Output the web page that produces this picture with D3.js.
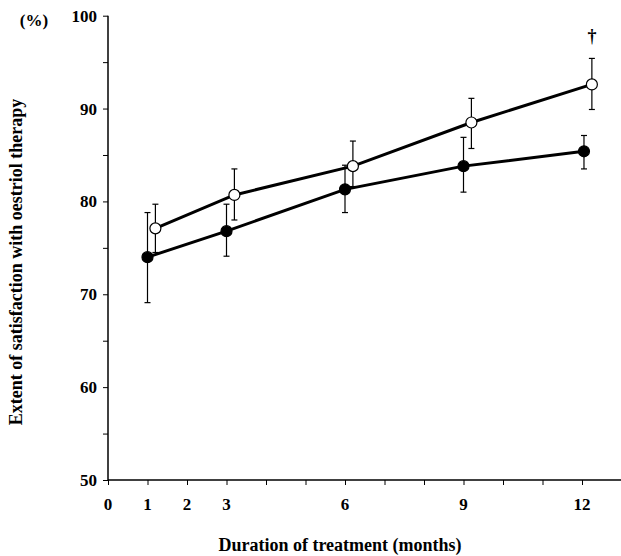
<!DOCTYPE html>
<html>
<head>
<meta charset="UTF-8">
<script src="https://d3js.org/d3.v7.min.js"></script>
<style>
  body { margin: 0; background: white; }
  text { font-family: "Liberation Serif", "DejaVu Serif", serif; font-weight: bold; fill: black; }
</style>
</head>
<body>
<svg width="621" height="556"></svg>
<script>
  // filled circles
  const filledX = [1, 3, 6, 9, 12.05];
  const filledY = [74.0, 76.8, 81.3, 83.8, 85.4];
  const filledHi = [78.8, 79.7, 83.9, 86.9, 87.1];
  const filledLo = [69.1, 74.1, 78.8, 81.0, 83.5];
  // open circles
  const openX = [1.2, 3.2, 6.2, 9.2, 12.25];
  const openY = [77.1, 80.7, 83.8, 88.5, 92.6];
  const openHi = [79.7, 83.5, 86.5, 91.1, 95.4];
  const openLo = [74.5, 78.0, 81.6, 85.7, 89.9];
  const xTickLabels = [0, 1, 2, 3, 6, 9, 12];
  const yTickLabels = [50, 60, 70, 80, 90, 100];

  const svg = d3.select("svg");
  const x = d3.scaleLinear().domain([0, 12]).range([108, 582]);
  const y = d3.scaleLinear().domain([50, 100]).range([480, 15.7]);

  // axes
  svg.append("line").attr("x1", x(0)).attr("x2", 621).attr("y1", y(50)).attr("y2", y(50))
    .attr("stroke", "black").attr("stroke-width", 1.5);
  svg.append("line").attr("x1", x(0)).attr("x2", x(0)).attr("y1", y(50)).attr("y2", y(100))
    .attr("stroke", "black").attr("stroke-width", 1.5);

  const xt = svg.append("g").attr("transform", `translate(0,${y(50)})`)
    .call(d3.axisBottom(x).tickValues(d3.range(0, 14)).tickSize(5).tickFormat(""));
  xt.select(".domain").remove();
  const yt = svg.append("g").attr("transform", `translate(${x(0)},0)`)
    .call(d3.axisLeft(y).tickValues(d3.range(50, 101, 5)).tickSize(5).tickFormat(""));
  yt.select(".domain").remove();

  svg.selectAll(".xl").data(xTickLabels).join("text")
    .attr("x", d => x(d)).attr("y", 510).attr("text-anchor", "middle")
    .attr("font-size", 17).text(d => d);
  svg.selectAll(".yl").data(yTickLabels).join("text")
    .attr("x", 97).attr("y", d => y(d) + 6).attr("text-anchor", "end")
    .attr("font-size", 17).text(d => d);

  svg.append("text").attr("x", 34).attr("y", 26).attr("text-anchor", "middle")
    .attr("font-size", 17).text("(%)");
  svg.append("text").attr("transform", "translate(22,262) rotate(-90)")
    .attr("text-anchor", "middle").attr("font-size", 18)
    .text("Extent of satisfaction with oestriol therapy");
  svg.append("text").attr("x", 340).attr("y", 551).attr("text-anchor", "middle")
    .attr("font-size", 18).text("Duration of treatment (months)");
  svg.append("text").attr("x", x(12.25)).attr("y", 42).attr("text-anchor", "middle")
    .attr("font-size", 18).attr("font-weight", "normal").text("†");

  function series(xs, ys, lo, hi, fill) {
    const pts = xs.map((d, i) => ({ x: d, y: ys[i], lo: lo[i], hi: hi[i] }));
    const g = svg.append("g");
    g.selectAll("line.eb").data(pts).join("line")
      .attr("x1", d => x(d.x)).attr("x2", d => x(d.x))
      .attr("y1", d => y(d.lo)).attr("y2", d => y(d.hi))
      .attr("stroke", "black").attr("stroke-width", 1.2);
    ["lo", "hi"].forEach(k => {
      g.selectAll("line.c" + k).data(pts).join("line")
        .attr("x1", d => x(d.x) - 3).attr("x2", d => x(d.x) + 3)
        .attr("y1", d => y(d[k])).attr("y2", d => y(d[k]))
        .attr("stroke", "black").attr("stroke-width", 1.2);
    });
    g.append("path").datum(pts)
      .attr("d", d3.line().x(d => x(d.x)).y(d => y(d.y)))
      .attr("fill", "none").attr("stroke", "black").attr("stroke-width", 3);
    g.selectAll("circle").data(pts).join("circle")
      .attr("cx", d => x(d.x)).attr("cy", d => y(d.y)).attr("r", 5.5)
      .attr("fill", fill).attr("stroke", "black").attr("stroke-width", 1.2);
  }
  series(filledX, filledY, filledLo, filledHi, "black");
  series(openX, openY, openLo, openHi, "white");
</script>
</body>
</html>
